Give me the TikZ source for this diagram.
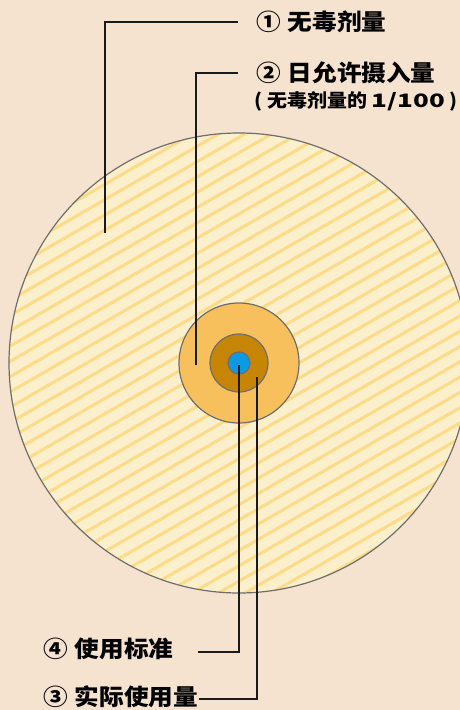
\documentclass[tikz,border=0pt]{standalone}
\usepackage{fontspec}
\setmainfont{Noto Sans CJK SC}
\newfontfamily\cjkb{Noto Sans CJK SC}[FakeStretch=1.08, BoldFeatures={FakeStretch=1.08}]
\definecolor{bgc}{HTML}{F5E2CF}
\definecolor{pale}{HTML}{FCEFCB}
\definecolor{stripe}{HTML}{FDDB88}
\definecolor{midc}{HTML}{F8C05C}
\definecolor{brownc}{HTML}{C68504}
\definecolor{bluec}{HTML}{0B9BE3}
\definecolor{rimc}{HTML}{6E6E6E}
\definecolor{leadc}{HTML}{1A1A1A}
\newcommand\gapc{\hspace{7pt}}
\tikzset{
  ring/.style={draw=rimc, line width=1.2pt},
  leader/.style={draw=leadc, line width=1.3pt},
  lab/.style={inner sep=0pt, anchor=west, text=black, font=\cjkb\bfseries\fontsize{22.8}{26}\selectfont},
  sublab/.style={inner sep=0pt, anchor=west, text=black, font=\cjkb\bfseries\fontsize{18.5}{22}\selectfont}
}
\begin{document}
\begin{tikzpicture}[x=1pt,y=-1pt]
\useasboundingbox (0,0) rectangle (460,710);
\fill[bgc] (0,0) rectangle (460,710);
\begin{scope}
  \clip (0,0) rectangle (460,710);
  \fill[pale] (239,363) circle (230);
  \begin{scope}
    \clip (239,363) circle (230);
    \foreach \k in {0,...,62} {
      \draw[stripe, line width=3pt] (0,\k*15.3) -- (480,\k*15.3-277.1);
    }
  \end{scope}
  \draw[ring] (239,363) circle (230);
\end{scope}
\filldraw[ring, fill=midc] (239,363) circle (60);
\filldraw[ring, fill=brownc] (239,363) circle (29);
\filldraw[ring, fill=bluec] (239,363) circle (11);

\node[lab] (l1) at (256,22) {①\gapc 无毒剂量};
\node[lab] (l2) at (256,73) {②\gapc 日允许摄入量};
\node[sublab] (l2s) at (254,101) {(\hspace{5pt}无毒剂量的 \scalebox{1.3}[1]{1/100}\hspace{5pt})};
\node[lab] (l4) at (43,649) {④\gapc 使用标准};
\node[lab] (l3) at (43,697) {③\gapc 实际使用量};

\coordinate (p1) at (105,233);
\coordinate (p2) at (196,365);
\coordinate (p4) at (239,365);
\coordinate (p3) at (257,377);
\coordinate (e4) at (198,652);
\coordinate (e3) at (199,699);

\draw[leader] (p1) |- ([xshift=-18pt]l1.west);
\draw[leader] (p2) |- ([xshift=-18pt]l2.west);
\draw[leader] (p4) |- (e4);
\draw[leader] (p3) |- (e3);
\end{tikzpicture}
\end{document}
